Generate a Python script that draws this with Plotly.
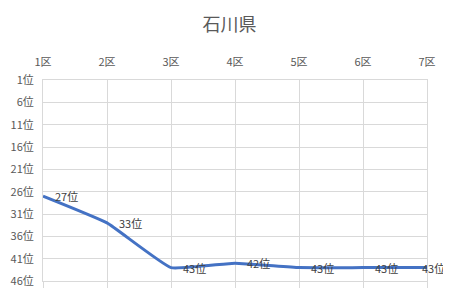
import plotly.graph_objects as go

categories = ["1区", "2区", "3区", "4区", "5区", "6区", "7区"]
ranks = [27, 33, 43, 42, 43, 43, 43]
rank_ticks = [1, 6, 11, 16, 21, 26, 31, 36, 41, 46]
rank_labels = [f"{v}位" for v in rank_ticks]
point_labels = [f"{v}位" for v in ranks]

FONT = "Noto Sans CJK JP, Noto Sans, sans-serif"
GRID = "#d9d9d9"

xpos = list(range(len(categories)))

# page body has an 8px margin, so the figure is sized/offset to compensate
W, H = 443, 295
ML, MR, MT, MB = 35, 24, 72, 22
PW, PH = W - ML - MR, H - MT - MB

fig = go.Figure()
fig.add_trace(go.Scatter(
    x=xpos, y=ranks, mode="lines",
    line=dict(color="#4472C4", width=3, shape="spline", smoothing=0.35),
    cliponaxis=False, hoverinfo="skip", showlegend=False,
))
# invisible trace for bottom tick axis
fig.add_trace(go.Scatter(x=xpos, y=ranks, xaxis="x2", mode="lines",
                         line=dict(width=0), hoverinfo="skip", showlegend=False))

annotations = []
for i, (x, y, t) in enumerate(zip(xpos, ranks, point_labels)):
    last = i == len(xpos) - 1
    annotations.append(dict(
        x=x, y=y, text=t, xref="x", yref="y", showarrow=False,
        xanchor="right" if last else "left", yanchor="middle",
        xshift=20 if last else 10,
        font=dict(family=FONT, size=11, color="#404040")))

fig.update_layout(
    width=W, height=H,
    margin=dict(l=ML, r=MR, t=MT, b=MB, autoexpand=False),
    paper_bgcolor="white", plot_bgcolor="white",
    title=dict(text="石川県", x=0.5, xanchor="center", y=1 - 17 / H, yanchor="middle",
               font=dict(family=FONT, size=18, color="#595959")),
    annotations=annotations,
    xaxis=dict(
        range=[0, 6], tickvals=xpos, ticktext=categories, side="top",
        showgrid=True, gridcolor=GRID, gridwidth=1,
        showline=True, linecolor=GRID, mirror=True,
        ticks="outside", ticklen=9, tickcolor="rgba(0,0,0,0)",
        tickfont=dict(family=FONT, size=11, color="#595959"),
        zeroline=False, fixedrange=True, automargin=False,
    ),
    xaxis2=dict(
        range=[0, 6], tickvals=xpos, overlaying="x", side="bottom",
        showgrid=False, showticklabels=False, showline=False,
        ticks="outside", ticklen=6, tickcolor=GRID, tickwidth=1,
        zeroline=False, automargin=False,
    ),
    yaxis=dict(
        range=[46, 1], tickvals=rank_ticks, ticktext=rank_labels,
        showgrid=True, gridcolor=GRID, gridwidth=1,
        showline=True, linecolor=GRID, mirror=True,
        ticks="outside", ticklen=6, tickcolor="rgba(0,0,0,0)",
        tickfont=dict(family=FONT, size=11, color="#595959"),
        zeroline=False, fixedrange=True, automargin=False,
    ),
    shapes=[dict(type="line", xref="paper", yref="paper",
                 x0=(441.5 - ML) / PW, x1=(441.5 - ML) / PW,
                 y0=-MB / PH, y1=1 + MT / PH,
                 line=dict(color="#d9d9d9", width=1), layer="below")],
)

fig.write_html("out.html")
